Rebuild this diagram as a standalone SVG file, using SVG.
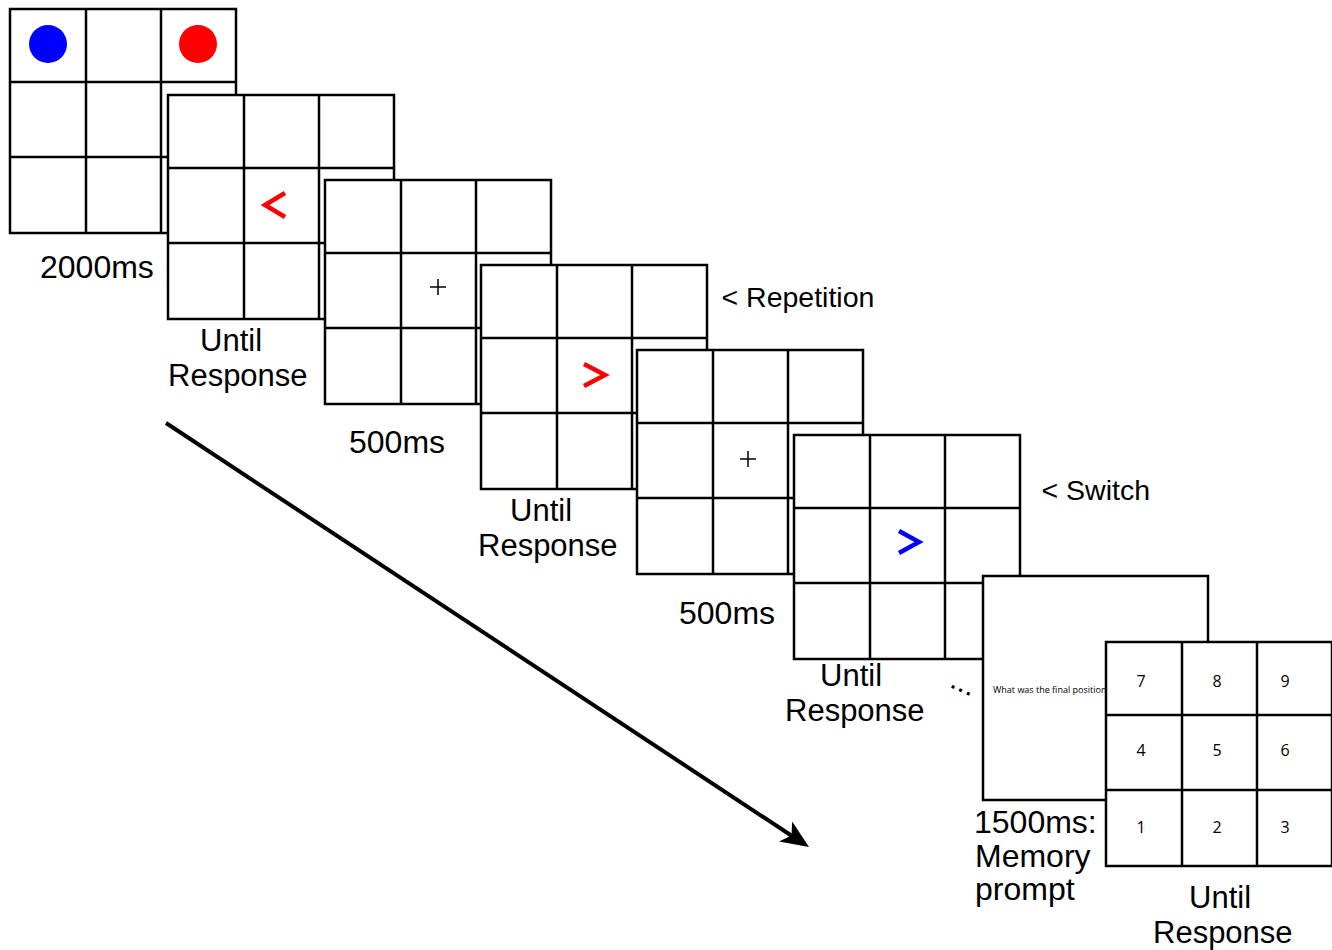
<svg xmlns="http://www.w3.org/2000/svg" xmlns:xlink="http://www.w3.org/1999/xlink" width="1332" height="950" viewBox="0 0 1332 950">
  <style>
    .cell { fill: #fff; stroke: #000; stroke-width: 2.5; }
    .ln { stroke: #000; stroke-width: 2.5; fill: none; }
    .lbl { font-family: "Liberation Sans", Arial, sans-serif; font-size: 32px; fill: #000; }
    .ur { font-family: "Liberation Sans", Arial, sans-serif; font-size: 31px; fill: #000; }
    .cue { font-family: "Liberation Sans", Arial, sans-serif; font-size: 28.5px; fill: #000; }
    .num { font-family: "Open Sans", "Noto Sans", sans-serif; font-size: 16px; fill: #000; text-anchor: middle; }
    .prompt { font-family: "Open Sans", "Noto Sans", sans-serif; font-size: 9px; fill: #000; }
    .chev { fill: none; stroke-width: 4.5; stroke-linecap: butt; stroke-linejoin: miter; }
    .plus { stroke: #000; stroke-width: 1.5; }
  </style>
  <defs>
    <g id="grid">
      <rect class="cell" x="0" y="0" width="226" height="224"/>
      <line class="ln" x1="76" y1="0" x2="76" y2="224"/>
      <line class="ln" x1="151" y1="0" x2="151" y2="224"/>
      <line class="ln" x1="0" y1="73" x2="226" y2="73"/>
      <line class="ln" x1="0" y1="148" x2="226" y2="148"/>
    </g>
  </defs>
  <rect width="1332" height="950" fill="#fff"/>

  <g id="connectors">
    <line x1="166" y1="423" x2="792" y2="836" stroke="#000" stroke-width="4"/>
    <polygon points="809,847 792.2,821.6 791.5,835.4 779,841.6" fill="#000"/>
  </g>

  <g id="stim-1">
    <use xlink:href="#grid" x="10" y="9"/>
    <circle cx="48" cy="44" r="19" fill="#0000ff"/>
    <circle cx="198" cy="44" r="19" fill="#ff0000"/>
    <text class="lbl" x="40" y="278">2000ms</text>
  </g>

  <g id="stim-2">
    <use xlink:href="#grid" x="168" y="95"/>
    <polyline class="chev" stroke="#ff0000" points="285,193 265,205 285,217"/>
    <text class="ur" x="200" y="351">Until</text>
    <text class="ur" x="168" y="386">Response</text>
  </g>

  <g id="stim-3">
    <use xlink:href="#grid" x="325" y="180"/>
    <line class="plus" x1="430" y1="287" x2="446" y2="287"/>
    <line class="plus" x1="438" y1="279" x2="438" y2="295"/>
    <text class="lbl" x="349" y="453">500ms</text>
  </g>

  <g id="stim-4">
    <use xlink:href="#grid" x="481" y="265"/>
    <polyline class="chev" stroke="#ff0000" points="584,364 605,375 584,386"/>
    <text class="cue" x="721.5" y="307">&lt; Repetition</text>
    <text class="ur" x="510" y="521">Until</text>
    <text class="ur" x="478" y="556">Response</text>
  </g>

  <g id="stim-5">
    <use xlink:href="#grid" x="637" y="350"/>
    <line class="plus" x1="740" y1="459" x2="756" y2="459"/>
    <line class="plus" x1="748" y1="451" x2="748" y2="467"/>
    <text class="lbl" x="679" y="624">500ms</text>
  </g>

  <g id="stim-6">
    <use xlink:href="#grid" x="794" y="435"/>
    <polyline class="chev" stroke="#0000ff" points="899,531 919,542 899,553"/>
    <text class="cue" x="1041.5" y="500">&lt; Switch</text>
    <text class="ur" x="820" y="686">Until</text>
    <text class="ur" x="785" y="721">Response</text>
  </g>

  <g id="ellipsis">
    <text class="lbl" style="font-size:30px" transform="translate(948.5,686.7) rotate(24)">...</text>
  </g>

  <g id="memory-prompt">
    <rect class="cell" x="983" y="576" width="225" height="224"/>
    <text class="prompt" x="993" y="693">What was the final position</text>
    <text class="lbl" x="974" y="833">1500ms:</text>
    <text class="lbl" x="975" y="867">Memory</text>
    <text class="lbl" x="975" y="900">prompt</text>
  </g>

  <g id="response-grid">
    <use xlink:href="#grid" x="1106" y="642"/>
    <text class="num" x="1141" y="687">7</text>
    <text class="num" x="1217" y="687">8</text>
    <text class="num" x="1285" y="687">9</text>
    <text class="num" x="1141" y="756">4</text>
    <text class="num" x="1217" y="756">5</text>
    <text class="num" x="1285" y="756">6</text>
    <text class="num" x="1141" y="833">1</text>
    <text class="num" x="1217" y="833">2</text>
    <text class="num" x="1285" y="833">3</text>
    <text class="ur" x="1189" y="908">Until</text>
    <text class="ur" x="1153" y="943">Response</text>
  </g>
</svg>
